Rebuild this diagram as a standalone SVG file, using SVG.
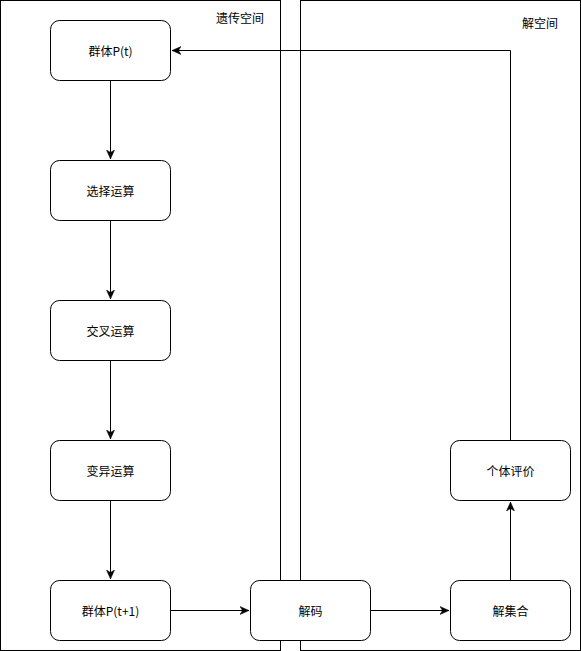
<svg xmlns="http://www.w3.org/2000/svg" width="581" height="651" viewBox="0 0 581 651">
<style>
.c{fill:#fff;stroke:#000;stroke-width:1}
.n{fill:#fff;stroke:#000;stroke-width:1}
.t{font-family:"Noto Sans CJK SC","Liberation Sans",sans-serif;font-size:12px;fill:#000;text-anchor:middle;dominant-baseline:central}
.e{fill:none;stroke:#000;stroke-width:1}
</style>
<defs>
<marker id="a" viewBox="0 0 10 10" refX="9" refY="5" markerWidth="10" markerHeight="10" markerUnits="userSpaceOnUse" orient="auto">
<path d="M0,1 L9,5 L0,9 L2.5,5 Z" fill="#000" stroke="#000" stroke-width="0.5"/>
</marker>
</defs>
<rect width="581" height="651" fill="#fff"/>
<g id="genetic-space">
<rect class="c" x="0.5" y="0.5" width="280" height="650"/>
<text class="t" x="240" y="17">遗传空间</text>
</g>
<g id="solution-space">
<rect class="c" x="300.5" y="0.5" width="280" height="650"/>
<text class="t" x="540" y="22">解空间</text>
</g>
<g id="connectors">
<path class="e" d="M110.5,80.5 V159" marker-end="url(#a)"/>
<path class="e" d="M110.5,220.5 V299" marker-end="url(#a)"/>
<path class="e" d="M110.5,360.5 V439" marker-end="url(#a)"/>
<path class="e" d="M110.5,500.5 V579" marker-end="url(#a)"/>
<path class="e" d="M170.5,610.5 H249" marker-end="url(#a)"/>
<path class="e" d="M370.5,610.5 H449" marker-end="url(#a)"/>
<path class="e" d="M510.5,580.5 V502" marker-end="url(#a)"/>
<path class="e" d="M510.5,440.5 V50.5 H172" marker-end="url(#a)"/>
</g>
<g id="pop-t">
<rect class="n" x="50.5" y="20.5" width="120" height="60" rx="9"/>
<text class="t" x="110.5" y="50.5">群体P(t)</text>
</g>
<g id="selection">
<rect class="n" x="50.5" y="160.5" width="120" height="60" rx="9"/>
<text class="t" x="110.5" y="190.5">选择运算</text>
</g>
<g id="crossover">
<rect class="n" x="50.5" y="300.5" width="120" height="60" rx="9"/>
<text class="t" x="110.5" y="330.5">交叉运算</text>
</g>
<g id="mutation">
<rect class="n" x="50.5" y="440.5" width="120" height="60" rx="9"/>
<text class="t" x="110.5" y="470.5">变异运算</text>
</g>
<g id="pop-t1">
<rect class="n" x="50.5" y="580.5" width="120" height="60" rx="9"/>
<text class="t" x="110.5" y="610.5">群体P(t+1)</text>
</g>
<g id="decode">
<rect class="n" x="250.5" y="580.5" width="120" height="60" rx="9"/>
<text class="t" x="310.5" y="610.5">解码</text>
</g>
<g id="solution-set">
<rect class="n" x="450.5" y="580.5" width="120" height="60" rx="9"/>
<text class="t" x="510.5" y="610.5">解集合</text>
</g>
<g id="evaluation">
<rect class="n" x="450.5" y="440.5" width="120" height="60" rx="9"/>
<text class="t" x="510.5" y="470.5">个体评价</text>
</g>
</svg>
